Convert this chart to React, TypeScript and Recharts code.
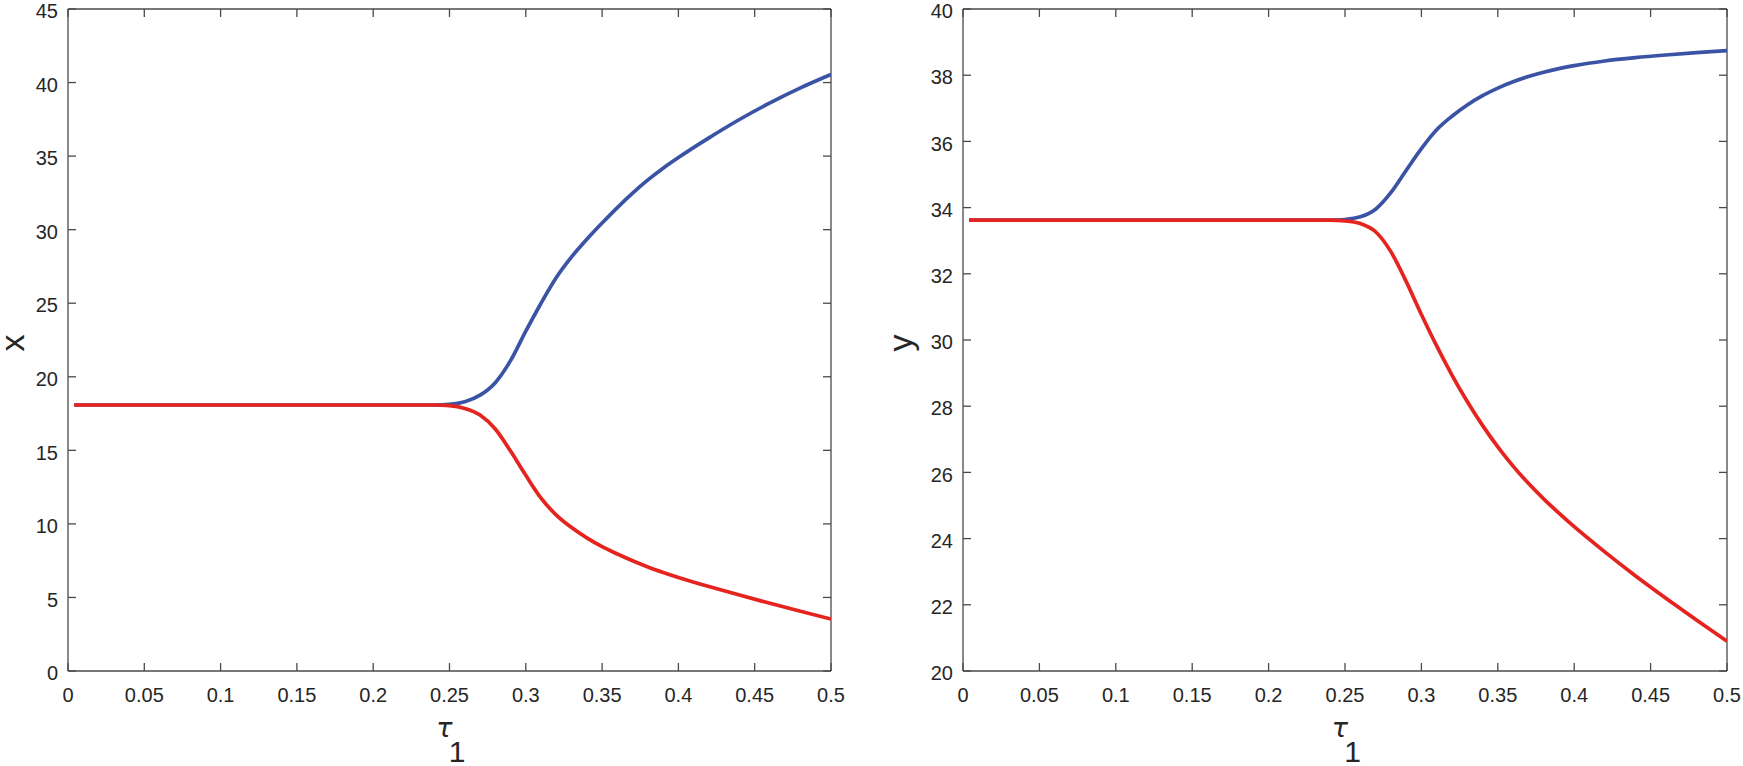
import React from 'react';
import { LineChart, Line, XAxis, YAxis, Label, ReferenceLine } from 'recharts';

const TAU = [0.004, 0.05, 0.1, 0.15, 0.2, 0.24, 0.25, 0.26, 0.27, 0.28, 0.29, 0.3, 0.31, 0.32, 0.33, 0.34, 0.35, 0.36, 0.37, 0.38, 0.39, 0.4, 0.42, 0.44, 0.46, 0.48, 0.5];
const X_BLUE = [18.08, 18.08, 18.08, 18.08, 18.08, 18.08, 18.12, 18.3, 18.75, 19.6, 21.1, 23.1, 25.0, 26.75, 28.15, 29.35, 30.45, 31.5, 32.48, 33.38, 34.18, 34.9, 36.24, 37.49, 38.62, 39.64, 40.55];
const X_RED = [18.08, 18.08, 18.08, 18.08, 18.08, 18.08, 18.04, 17.85, 17.4, 16.45, 14.95, 13.3, 11.75, 10.6, 9.75, 9.05, 8.45, 7.95, 7.49, 7.07, 6.7, 6.36, 5.74, 5.16, 4.6, 4.06, 3.53];
const Y_BLUE = [33.62, 33.62, 33.62, 33.62, 33.62, 33.62, 33.64, 33.72, 33.95, 34.45, 35.12, 35.78, 36.35, 36.76, 37.1, 37.38, 37.61, 37.8, 37.96, 38.09, 38.2, 38.29, 38.43, 38.53, 38.61, 38.68, 38.74];
const Y_RED = [33.62, 33.62, 33.62, 33.62, 33.62, 33.62, 33.6, 33.52, 33.27, 32.67, 31.77, 30.77, 29.82, 28.94, 28.14, 27.42, 26.77, 26.19, 25.67, 25.2, 24.77, 24.36, 23.6, 22.88, 22.2, 21.54, 20.9];

const TAU_TICKS = [0, 0.05, 0.1, 0.15, 0.2, 0.25, 0.3, 0.35, 0.4, 0.45, 0.5];
const X_TICKS = [0, 5, 10, 15, 20, 25, 30, 35, 40, 45];
const Y_TICKS = [20, 22, 24, 26, 28, 30, 32, 34, 36, 38, 40];

const leftData = TAU.map((t, i) => ({ t, blue: X_BLUE[i], red: X_RED[i] }));
const rightData = TAU.map((t, i) => ({ t, blue: Y_BLUE[i], red: Y_RED[i] }));

const BLUE = '#3a53a4';
const RED = '#e5231f';
const AXIS = '#4a4a4a';
const FONT = '"Liberation Sans", Arial, Helvetica, sans-serif';
const TICK_LEN = 8;
const PLOT_TOP = 9;

// Bottom tick label, plus the mirrored inward tick on the top edge of the box
const makeXTick = (plotTop: number) => (props: any) => {
  const cx = props.payload && props.payload.coordinate != null ? props.payload.coordinate : props.x;
  return (
    <g>
      <line x1={cx} x2={cx} y1={plotTop} y2={plotTop + TICK_LEN} stroke={AXIS} strokeWidth={1.3} />
      <text x={props.x} y={props.y} dy="0.71em" textAnchor="middle" fontSize={20} fontFamily={FONT} fill="#262626">
        {String(props.payload.value)}
      </text>
    </g>
  );
};

// Left tick label, plus the mirrored inward tick on the right edge of the box
const makeYTick = (plotRight: number) => (props: any) => {
  const cy = props.payload && props.payload.coordinate != null ? props.payload.coordinate : props.y;
  return (
    <g>
      <line x1={plotRight - TICK_LEN} x2={plotRight} y1={cy} y2={cy} stroke={AXIS} strokeWidth={1.3} />
      <text x={props.x} y={props.y + 2} dy="0.36em" textAnchor="end" fontSize={20} fontFamily={FONT} fill="#262626">
        {String(props.payload.value)}
      </text>
    </g>
  );
};

const tauLabel = (props: any) => {
  const vb = props.viewBox || {};
  const cx = vb.x + vb.width / 2;
  const top = vb.y;
  return (
    <g>
      <text x={cx - 5} y={top + 66} textAnchor="middle" fontSize={27} fontStyle="italic" fontFamily='"DejaVu Sans", sans-serif' fill="#262626">τ</text>
      <text x={cx + 7.5} y={top + 90.5} textAnchor="middle" fontSize={30} fontFamily={FONT} fill="#262626">1</text>
    </g>
  );
};

const makeYLabel = (txt: string, dyEm: string, offsetFromAxis: number) => (props: any) => {
  const vb = props.viewBox || {};
  const cx = vb.x + vb.width - offsetFromAxis;
  const cy = vb.y + vb.height / 2 + 3;
  return (
    <text x={cx} y={cy} dy={dyEm} textAnchor="middle" fontSize={34} fontFamily={FONT} fill="#262626" transform={`rotate(-90, ${cx}, ${cy})`}>
      {txt}
    </text>
  );
};

type PanelProps = {
  data: any[];
  yDomain: [number, number];
  yTicks: number[];
  yWidth: number;
  rightMargin: number;
  width: number;
  yLabel: (p: any) => any;
};

const axisStyle = { stroke: AXIS, strokeWidth: 1.3 };

const Panel = ({ data, yDomain, yTicks, yWidth, rightMargin, width, yLabel }: PanelProps) => {
  const plotRight = width - rightMargin;
  return (
    <LineChart width={width} height={766} data={data} margin={{ top: PLOT_TOP, right: rightMargin, left: 0, bottom: 0 }}>
      <XAxis
        xAxisId="b"
        dataKey="t"
        type="number"
        domain={[0, 0.5]}
        ticks={TAU_TICKS}
        height={95}
        tickSize={-TICK_LEN}
        tickMargin={25}
        tick={makeXTick(PLOT_TOP)}
        axisLine={axisStyle}
        tickLine={axisStyle}
        interval={0}
        allowDataOverflow
      >
        <Label content={tauLabel} />
      </XAxis>
      <YAxis
        yAxisId="l"
        type="number"
        domain={yDomain}
        ticks={yTicks}
        width={yWidth}
        tickSize={-TICK_LEN}
        tickMargin={18}
        tick={makeYTick(plotRight)}
        axisLine={axisStyle}
        tickLine={axisStyle}
        interval={0}
        allowDataOverflow
      >
        <Label content={yLabel} />
      </YAxis>
      <ReferenceLine xAxisId="b" yAxisId="l" y={yDomain[1]} stroke={AXIS} strokeWidth={1.3} />
      <ReferenceLine xAxisId="b" yAxisId="l" x={0.5} stroke={AXIS} strokeWidth={1.3} />
      <Line xAxisId="b" yAxisId="l" type="monotone" dataKey="blue" stroke={BLUE} strokeWidth={3.7} dot={false} isAnimationActive={false} />
      <Line xAxisId="b" yAxisId="l" type="monotone" dataKey="red" stroke={RED} strokeWidth={3.7} dot={false} isAnimationActive={false} />
    </LineChart>
  );
};

export default function App() {
  return (
    <div style={{ position: 'absolute', left: 0, top: 0, width: 1743, height: 766, background: '#fff' }}>
      <div style={{ position: 'absolute', left: 0, top: 0 }}>
        <Panel data={leftData} yDomain={[0, 45]} yTicks={X_TICKS} yWidth={68} rightMargin={49} width={880} yLabel={makeYLabel('x', '0.26em', 53)} />
      </div>
      <div style={{ position: 'absolute', left: 880, top: 0 }}>
        <Panel data={rightData} yDomain={[20, 40]} yTicks={Y_TICKS} yWidth={83} rightMargin={16} width={863} yLabel={makeYLabel('y', '0.16em', 56)} />
      </div>
    </div>
  );
}
